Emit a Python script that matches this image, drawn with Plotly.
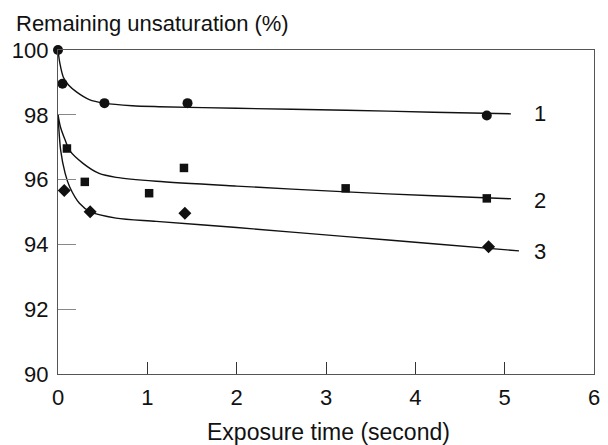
import plotly.graph_objects as go

# Measured points (exposure time in s, remaining unsaturation in %)
s1_x = [0.0, 0.05, 0.52, 1.45, 4.80]
s1_y = [100.0, 98.96, 98.36, 98.36, 97.98]

s2_x = [0.10, 0.30, 1.02, 1.41, 3.22, 4.80]
s2_y = [96.96, 95.93, 95.58, 96.36, 95.73, 95.42]

s3_x = [0.07, 0.36, 1.42, 4.82]
s3_y = [95.66, 95.01, 94.96, 93.93]

# Fitted curves
c1_x = [0.0, 0.02, 0.06, 0.12, 0.21, 0.35, 0.52, 0.83, 1.13, 2.0, 3.23, 4.2, 5.07]
c1_y = [100.0, 99.6, 99.16, 98.91, 98.70, 98.47, 98.36, 98.28, 98.25, 98.20, 98.14, 98.08, 98.03]

c2_x = [0.0, 0.03, 0.08, 0.13, 0.28, 0.46, 0.65, 1.1, 2.0, 3.23, 4.2, 5.07]
c2_y = [98.0, 97.6, 97.22, 96.9, 96.50, 96.19, 96.07, 95.95, 95.80, 95.62, 95.50, 95.41]

c3_x = [0.0, 0.03, 0.08, 0.13, 0.24, 0.36, 0.65, 1.1, 2.0, 3.23, 4.2, 5.16]
c3_y = [98.0, 96.9, 96.19, 95.78, 95.27, 95.01, 94.81, 94.71, 94.52, 94.24, 94.02, 93.80]

curve_labels = ["1", "2", "3"]
label_x = [5.39, 5.39, 5.39]
label_y = [98.05, 95.37, 93.78]

x_ticks = [0, 1, 2, 3, 4, 5, 6]
y_ticks = [90, 92, 94, 96, 98, 100]

FONT = "Liberation Sans, Arial, Helvetica, sans-serif"
INK = "#111111"

fig = go.Figure()

for cx, cy in [(c1_x, c1_y), (c2_x, c2_y), (c3_x, c3_y)]:
    fig.add_trace(go.Scatter(
        x=cx, y=cy, mode="lines",
        line=dict(color=INK, width=1.4, shape="spline", smoothing=0.8),
        hoverinfo="skip", showlegend=False, cliponaxis=False,
    ))

for sx, sy, sym, sz in [(s1_x, s1_y, "circle", 10),
                        (s2_x, s2_y, "square", 8.5),
                        (s3_x, s3_y, "diamond", 10)]:
    fig.add_trace(go.Scatter(
        x=sx, y=sy, mode="markers",
        marker=dict(symbol=sym, size=sz, color=INK, line=dict(width=0)),
        showlegend=False, cliponaxis=False,
    ))

for t, lx, ly in zip(curve_labels, label_x, label_y):
    fig.add_annotation(x=lx, y=ly, text=t, showarrow=False,
                       font=dict(family=FONT, size=22, color=INK),
                       xanchor="center", yanchor="middle")

fig.add_annotation(xref="paper", yref="paper", x=-0.083, y=1.0815,
                   text="Remaining unsaturation (%)", showarrow=False,
                   xanchor="left", yanchor="middle",
                   font=dict(family=FONT, size=22, color=INK))

fig.add_annotation(xref="paper", yref="paper", x=0.504, y=-0.1785,
                   text="Exposure time (second)", showarrow=False,
                   xanchor="center", yanchor="middle",
                   font=dict(family=FONT, size=23, color=INK))

fig.update_xaxes(
    range=[0, 6], tickvals=x_ticks, ticktext=[str(v) for v in x_ticks],
    ticks="inside", ticklen=12, tickwidth=1, tickcolor="#333333",
    showline=True, linecolor="#555555", linewidth=1.3, mirror=True,
    showgrid=False, zeroline=False,
    tickfont=dict(family=FONT, size=22, color=INK), ticklabelstandoff=3,
)
fig.update_yaxes(
    range=[90, 100], tickvals=y_ticks, ticktext=[str(v) for v in y_ticks],
    ticks="inside", ticklen=18, tickwidth=1, tickcolor="#888888",
    showline=True, linecolor="#555555", linewidth=1.3, mirror=True,
    showgrid=False, zeroline=False,
    tickfont=dict(family=FONT, size=22, color=INK), ticklabelstandoff=4,
)

fig.update_layout(
    width=608, height=445,
    margin=dict(l=58, r=7.5, t=49.5, b=70.5),
    paper_bgcolor="white", plot_bgcolor="white",
    showlegend=False,
)

fig.write_html("out.html")
